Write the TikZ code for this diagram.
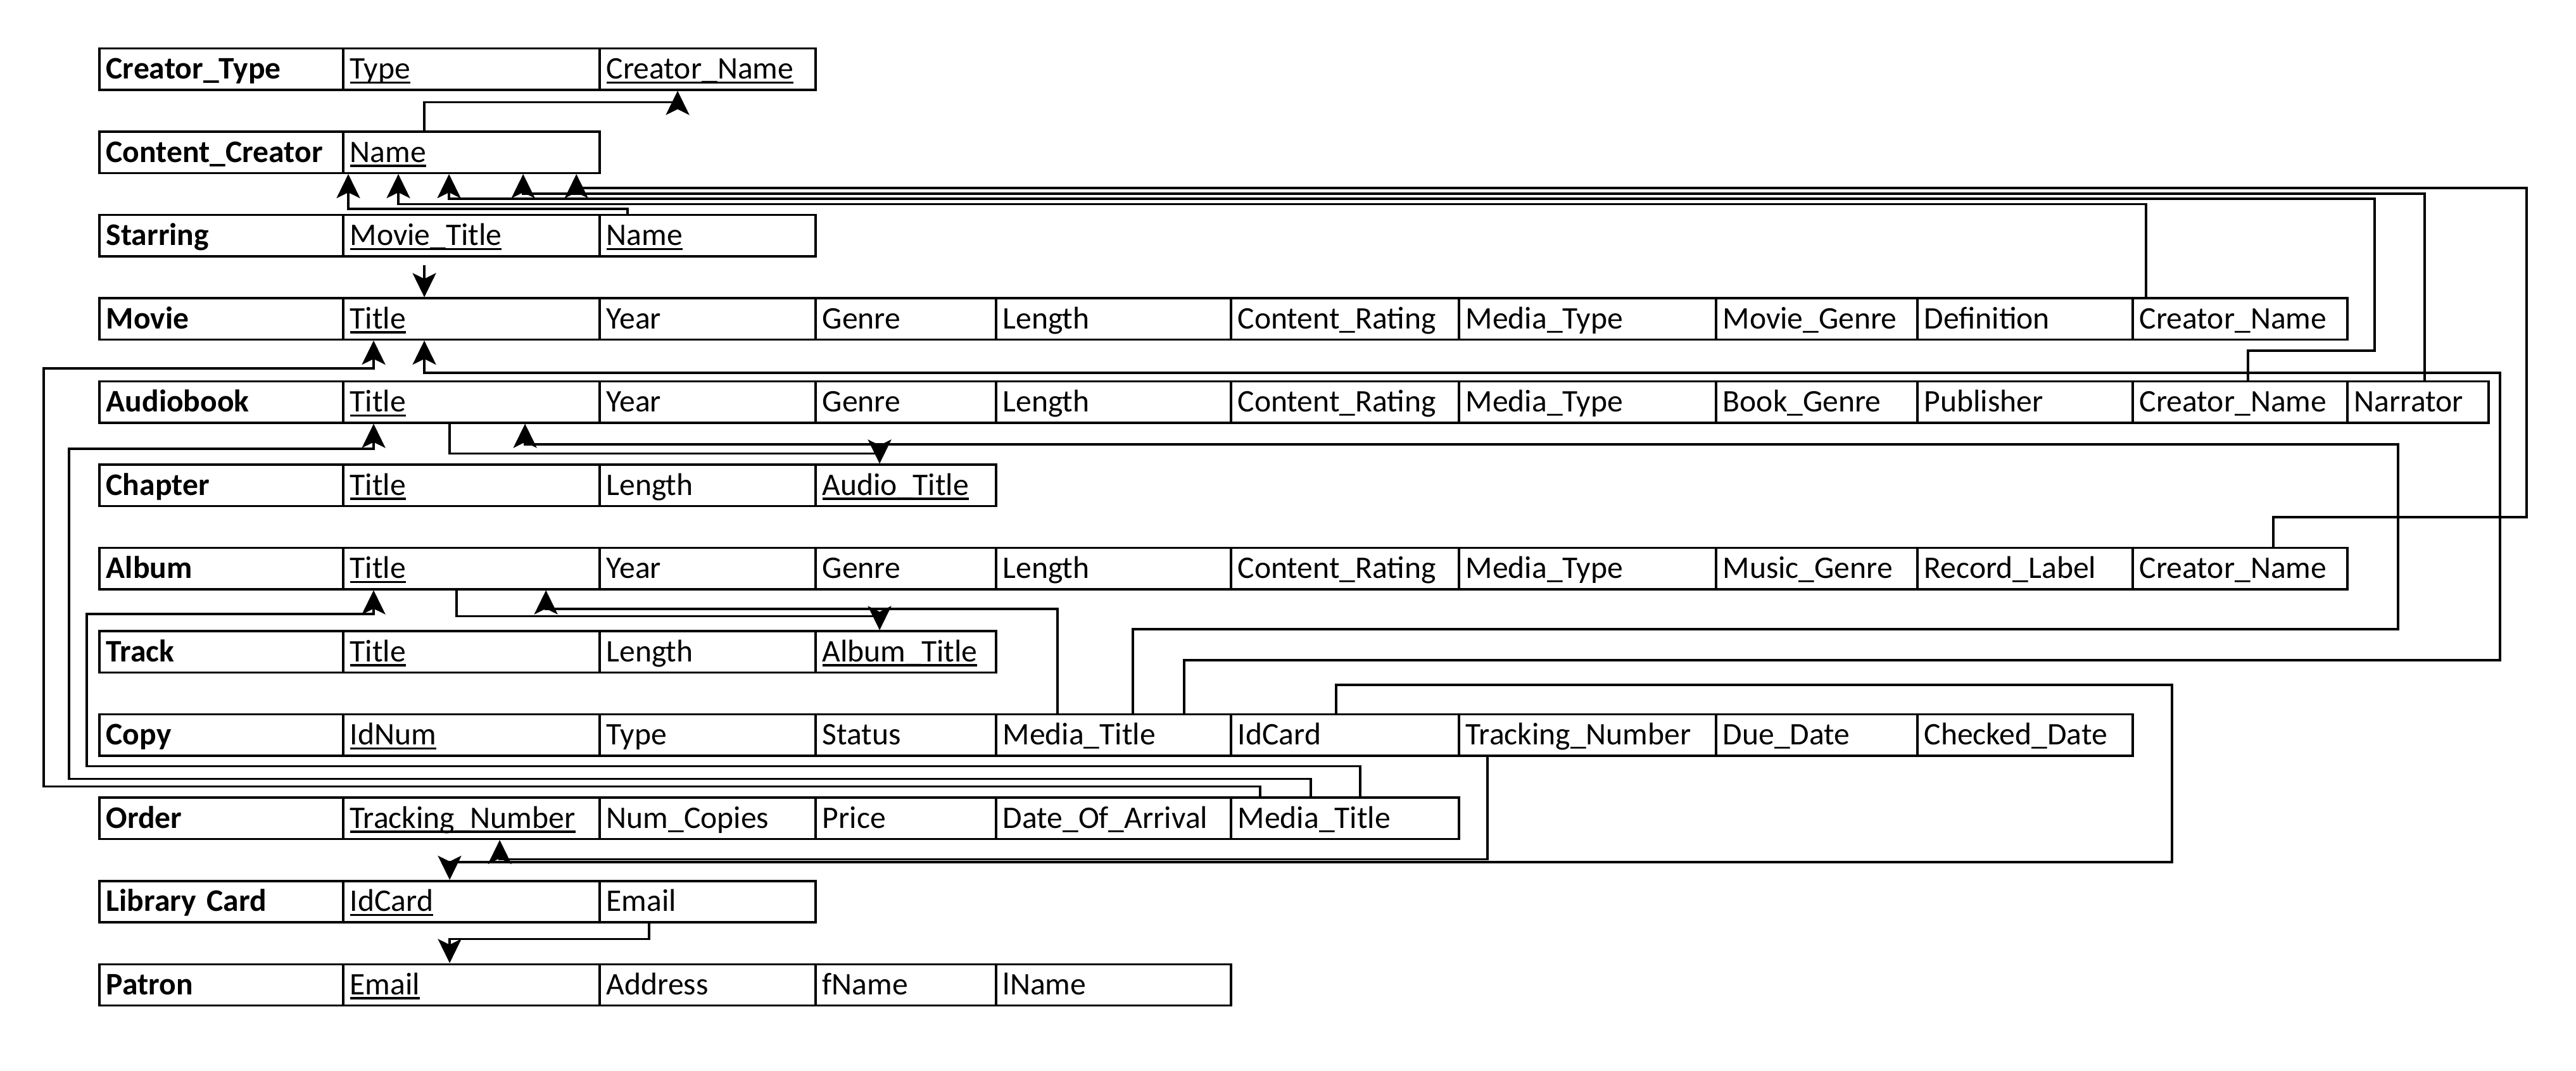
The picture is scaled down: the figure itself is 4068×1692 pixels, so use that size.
\documentclass[tikz,border=0pt]{standalone}
\usepackage{fontspec}
\setmainfont{Carlito}
\usetikzlibrary{arrows.meta}
\newsavebox{\pkbox}
\newcommand{\pk}[1]{\sbox{\pkbox}{#1}\rlap{\rule[-0.15em]{\wd\pkbox}{0.07em}}\usebox{\pkbox}}
\def\colx{{155,540,945,1286,1571,1942,2302,2708,3026,3366,3705,3928}}
\newcommand{\tablerow}[3]{%
  \foreach \txt [count=\i from 0] in {#3} {
    \pgfmathtruncatemacro{\j}{\i+1}
    \pgfmathsetmacro{\xa}{\colx[\i]}
    \pgfmathsetmacro{\xb}{\colx[\j]}
    \pgfmathsetmacro{\cw}{(\xb-\xa)*0.01-0.22}
    \node[cell, text width=\cw cm] (#1-\i) at (\xa,#2) {\mbox{\ignorespaces\txt}};
  }
}
\tikzset{
    cell/.style={draw, line width=0.035cm, anchor=north west, minimum height=0.65cm, inner xsep=0.11cm, inner ysep=0pt, text height=0.32cm, text depth=0.01cm, align=left, font=\fontsize{14.1}{16}\selectfont},
    fk/.style={line width=0.035cm, -{Stealth[length=0.38cm, width=0.37cm, inset=0.09cm]}}
}
\begin{document}
\begin{tikzpicture}[x=0.01cm, y=-0.01cm]
    \useasboundingbox (0,0) rectangle (4068,1692);

    % Tables
    \tablerow{ctype}{75}{\textbf{Creator\_Type}, \pk{Type}, \pk{Creator\_Name}}
    \tablerow{ccreator}{206.5}{\textbf{Content\_Creator}, \pk{Name}}
    \tablerow{star}{338}{\textbf{Starring}, \pk{Movie\_Title}, \pk{Name}}
    \tablerow{movie}{469.5}{\textbf{Movie}, \pk{Title}, Year, Genre, Length, Content\_Rating, Media\_Type, Movie\_Genre, Definition, Creator\_Name}
    \tablerow{abook}{601}{\textbf{Audiobook}, \pk{Title}, Year, Genre, Length, Content\_Rating, Media\_Type, Book\_Genre, Publisher, Creator\_Name, Narrator}
    \tablerow{chap}{732.5}{\textbf{Chapter}, \pk{Title}, Length, \pk{Audio\_Title}}
    \tablerow{album}{864}{\textbf{Album}, \pk{Title}, Year, Genre, Length, Content\_Rating, Media\_Type, Music\_Genre, Record\_Label, Creator\_Name}
    \tablerow{track}{995.5}{\textbf{Track}, \pk{Title}, Length, \pk{Album\_Title}}
    \tablerow{copy}{1127}{\textbf{Copy}, \pk{IdNum}, Type, Status, Media\_Title, IdCard, Tracking\_Number, Due\_Date, Checked\_Date}
    \tablerow{order}{1258.5}{\textbf{Order}, \pk{Tracking\_Number}, Num\_Copies, Price, Date\_Of\_Arrival, Media\_Title}
    \tablerow{lcard}{1390}{\textbf{Library Card}, \pk{IdCard}, Email}
    \tablerow{patron}{1521.5}{\textbf{Patron}, \pk{Email}, Address, fName, lName}

    % Creator references
    \draw[fk] ([xshift=1.3cm]ccreator-1.north west) -- ++(0,-45) -| ([xshift=1.25cm]ctype-2.south west);
    \draw[fk] ([xshift=0.46cm]star-2.north west) -- ++(0,-8) -| ([xshift=0.1cm]ccreator-1.south west);
    \draw[fk] ([xshift=0.23cm]movie-9.north west) -- ++(0,-147) -| ([xshift=0.89cm]ccreator-1.south west);
    \draw[fk] ([xshift=1.84cm]abook-9.north west) -- ++(0,-47) -| (3750,314) -| ([xshift=1.69cm]ccreator-1.south west);
    \draw[fk] ([xshift=1.24cm]abook-10.north west) -- ++(0,-295) -| ([xshift=2.86cm]ccreator-1.south west);
    \draw[fk] ([xshift=2.24cm]album-9.north west) -- ++(0,-47) -| (3990,297) -| ([xshift=3.7cm]ccreator-1.south west);

    % Title references
    \draw[fk, shorten <=0.12cm] ([xshift=1.3cm]star-1.south west) -- ([xshift=1.3cm]movie-1.north west);
    \draw[fk] ([xshift=1.7cm]abook-1.south west) -- ++(0,47) -| ([xshift=1.03cm]chap-3.north west);
    \draw[fk] ([xshift=1.81cm]album-1.south west) -- ++(0,41) -| ([xshift=1.03cm]track-3.north west);

    % Copy
    \draw[fk] ([xshift=0.99cm]copy-4.north west) -- ++(0,-165) -| ([xshift=3.22cm]album-1.south west);
    \draw[fk] ([xshift=2.18cm]copy-4.north west) -- ++(0,-133) -| (3787,702) -| ([xshift=2.89cm]abook-1.south west);
    \draw[fk] ([xshift=2.99cm]copy-4.north west) -- ++(0,-84) -| (3948,589) -| ([xshift=1.3cm]movie-1.south west);
    \draw[fk] ([xshift=1.68cm]copy-5.north west) -- ++(0,-45) -| (3430,1362) -| ([xshift=1.7cm]lcard-1.north west);
    \draw[fk] ([xshift=0.47cm]copy-6.south west) -- ++(0,162) -| ([xshift=2.49cm]order-1.south west);

    % Order
    \draw[fk] ([xshift=0.48cm]order-5.north west) -- ++(0,-16) -| (69,582) -| ([xshift=0.5cm]movie-1.south west);
    \draw[fk] ([xshift=1.28cm]order-5.north west) -- ++(0,-28) -| (109,709) -| ([xshift=0.5cm]abook-1.south west);
    \draw[fk] ([xshift=2.06cm]order-5.north west) -- ++(0,-48) -| (137,970) -| ([xshift=0.5cm]album-1.south west);

    % Library card
    \draw[fk] ([xshift=0.8cm]lcard-2.south west) -- ++(0,25) -| ([xshift=1.7cm]patron-1.north west);
\end{tikzpicture}
\end{document}
